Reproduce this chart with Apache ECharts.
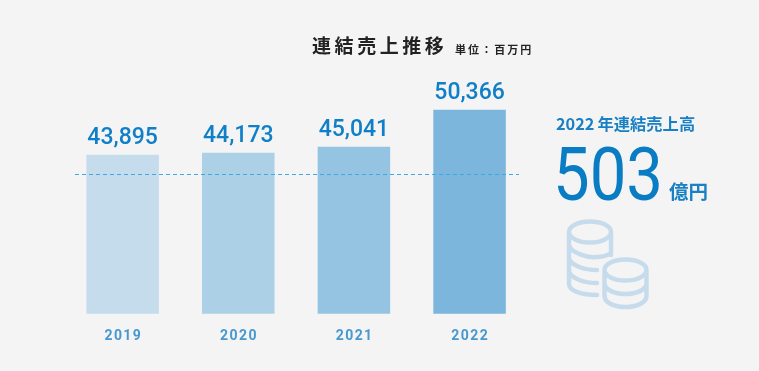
<!DOCTYPE html>
<html>
<head>
<meta charset="utf-8">
<style>
html, body { margin: 0; padding: 0; background: #f4f4f4; }
#chart { width: 759px; height: 371px; }
</style>
<script src="https://cdn.jsdelivr.net/npm/echarts@6/dist/echarts.min.js"></script>
</head>
<body>
<div id="chart"></div>
<script>
var years = ['2019', '2020', '2021', '2022'];
var sales = [43895, 44173, 45041, 50366];
var barColors = ['#c5dced', '#acd0e6', '#94c4e2', '#7cb6dc'];
var dashedLevel = 41090;

var cjk = '"Noto Sans CJK JP", sans-serif';
var hair = '\u200a';

function spaced(str) {
    return str.split('').join(hair);
}

// coin stacks icon
var coinsPath =
    'M569 232 a21 10.5 0 1 0 42 0 a21 10.5 0 1 0 -42 0 ' +
    'M569 232 L569 284 C569 291 582 295 597 295 ' +
    'M611 232 L611 255 ' +
    'M569 245 C571 253 588 258 596 257 C602 257 607 256 611 253 ' +
    'M569 258 C571 266 585 270 597 270 ' +
    'M569 271 C571 279 585 283 597 283 ' +
    'M604.5 270 a21 10.5 0 1 0 42 0 a21 10.5 0 1 0 -42 0 ' +
    'M604.5 270 L604.5 296 C604.5 303 615 307 625.5 307 C636 307 646.5 303 646.5 296 L646.5 270 ' +
    'M604.5 283 C604.5 290 615 294 625.5 294 C636 294 646.5 290 646.5 283';
echarts.graphic.registerShape('coins', echarts.graphic.extendPath(coinsPath, {}));

var myChart = echarts.init(document.getElementById('chart'));

var option = {
    animation: false,
    backgroundColor: '#f4f4f4',
    grid: {
        left: 64.8,
        width: 462.6,
        top: 36,
        height: 277.7
    },
    xAxis: {
        type: 'category',
        data: years,
        axisTick: { show: false },
        axisLine: { show: false },
        axisLabel: {
            margin: 16,
            color: '#4798cf',
            fontFamily: 'Roboto',
            fontWeight: 'bold',
            fontSize: 14,
            formatter: function(value) {
                return spaced(value);
            }
        }
    },
    yAxis: {
        type: 'value',
        min: 21000,
        max: 61000,
        show: false
    },
    series: [{
        type: 'bar',
        barWidth: 72.5,
        data: sales.map(function(value, i) {
            return { value: value, itemStyle: { color: barColors[i] } };
        }),
        label: {
            show: true,
            position: 'top',
            distance: 5,
            color: '#0f7fc8',
            fontFamily: 'Roboto',
            fontWeight: 500,
            fontSize: 23,
            formatter: function(params) {
                return echarts.format.addCommas(params.value);
            }
        },
        markLine: {
            silent: true,
            symbol: 'none',
            label: { show: false },
            lineStyle: { color: '#3fa9e8', type: [4, 3], width: 1 },
            data: [[
                { yAxis: dashedLevel, x: 75 },
                { yAxis: dashedLevel, x: 519 }
            ]]
        }
    }],
    graphic: [
        {
            type: 'text', x: 312, y: 46,
            style: { text: spaced(spaced('連結売上推移')), font: 'bold 19px ' + cjk, fill: '#222', textVerticalAlign: 'middle' }
        },
        {
            type: 'text', x: 455, y: 50,
            style: { text: spaced(spaced('単位：百万円')), font: 'bold 11px ' + cjk, fill: '#222', textVerticalAlign: 'middle' }
        },
        {
            type: 'text', x: 556, y: 124,
            style: { text: '2022' + hair + hair + hair + '年連結売上高', font: 'bold 16.3px ' + cjk, fill: '#1a80c4', textVerticalAlign: 'middle' }
        },
        {
            type: 'text', x: 553, y: 181, scaleX: 0.87,
            style: { text: '503', font: 'normal 75px Roboto', fill: '#0a7cc4', textVerticalAlign: 'middle' }
        },
        {
            type: 'text', x: 669, y: 192,
            style: { text: '億円', font: 'bold 19.5px ' + cjk, fill: '#1a80c4', textVerticalAlign: 'middle' }
        },
        {
            type: 'coins',
            style: { fill: 'none', stroke: '#c6dcec', lineWidth: 4.5, lineCap: 'round' }
        }
    ]
};

myChart.setOption(option);
</script>
</body>
</html>
